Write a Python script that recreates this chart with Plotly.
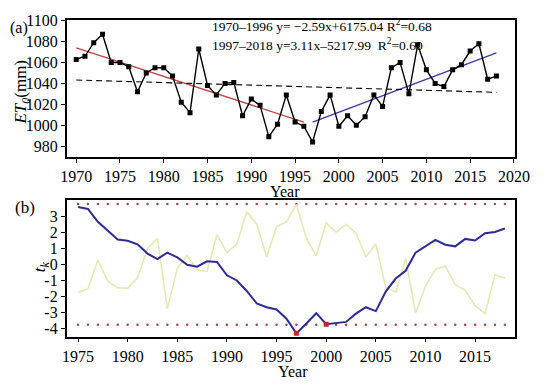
import numpy as np
import plotly.graph_objects as go

# ---------------- data ----------------
years_a = list(range(1970, 2019))
et0 = [1063, 1066, 1079, 1087, 1060, 1060, 1056, 1032, 1050, 1055,
       1055, 1047, 1022, 1012, 1073, 1038, 1029, 1040, 1041, 1009,
       1025, 1019, 989, 1001, 1029, 1003, 999, 984, 1013, 1029,
       999, 1009, 1000, 1008, 1029, 1018, 1055, 1060, 1030, 1077,
       1053, 1040, 1037, 1053, 1058, 1071, 1078, 1044, 1047]

years_b = list(range(1975, 2019))
uf = [3.56, 3.44, 2.64, 2.09, 1.54, 1.46, 1.24, 0.67, 0.33, 0.73,
      0.43, -0.03, -0.14, 0.19, 0.15, -0.68, -1.0, -1.65, -2.42, -2.66,
      -2.80, -3.37, -4.28, -3.67, -3.03, -3.71, -3.63, -3.57, -3.06, -2.66,
      -2.90, -1.69, -0.88, -0.40, 0.73, 1.14, 1.52, 1.22, 1.12, 1.58,
      1.48, 1.93, 2.01, 2.23]
ub = [-1.75, -1.51, 0.27, -1.04, -1.45, -1.49, -0.84, 0.97, 1.62, -2.76,
      -0.24, 0.57, -0.34, -0.44, 1.85, 0.73, 1.28, 3.26, 2.49, 0.47,
      2.33, 2.64, 3.71, 1.62, 0.53, 2.59, 1.99, 2.49, 1.94, 0.47,
      1.28, -1.45, -1.71, 0.37, -3.03, -1.35, -0.30, -0.12, -1.25, -1.61,
      -2.56, -3.06, -0.64, -0.84]
crit = 3.74
change_years = [1997, 2000]

xticks_a = [1970, 1975, 1980, 1985, 1990, 1995, 2000, 2005, 2010, 2015, 2020]
yticks_a = [980, 1000, 1020, 1040, 1060, 1080, 1100]
xticks_b = [1975, 1980, 1985, 1990, 1995, 2000, 2005, 2010, 2015]
yticks_b = [-4, -3, -2, -1, 0, 1, 2, 3]
yticktext_b = ["-4", "-3", "-2", "-1", "0", "1", "2", "3"]

eq1 = "1970\u20131996 y= \u22122.59x+6175.04 R<sup>2</sup>=0.68"
eq2 = "1997\u20132018 y=3.11x\u20135217.99  R<sup>2</sup>=0.60"

# ---------------- derived trends ----------------
ya = np.array(years_a, dtype=float)
va = np.array(et0, dtype=float)
m1 = (ya >= 1970) & (ya <= 1996)
m2 = (ya >= 1997) & (ya <= 2018)
p1 = np.polyfit(ya[m1], va[m1], 1)
p2 = np.polyfit(ya[m2], va[m2], 1)
p0 = np.polyfit(ya, va, 1)

FONT = "Liberation Serif"

fig = go.Figure()

# top panel
fig.add_trace(go.Scatter(x=ya[m1], y=np.polyval(p1, ya[m1]), mode="lines",
                         line=dict(color="#c84040", width=1.3),
                         xaxis="x", yaxis="y", showlegend=False))
fig.add_trace(go.Scatter(x=ya[m2], y=np.polyval(p2, ya[m2]), mode="lines",
                         line=dict(color="#3a3aa8", width=1.3),
                         xaxis="x", yaxis="y", showlegend=False))
fig.add_trace(go.Scatter(x=ya, y=np.polyval(p0, ya), mode="lines",
                         line=dict(color="black", width=1.1, dash="6px,4px"),
                         xaxis="x", yaxis="y", showlegend=False))
fig.add_trace(go.Scatter(x=years_a, y=et0, mode="lines+markers",
                         line=dict(color="black", width=1.4),
                         marker=dict(symbol="square", size=5, color="black"),
                         xaxis="x", yaxis="y", showlegend=False))

# bottom panel
fig.add_trace(go.Scatter(x=years_b, y=[crit] * len(years_b), mode="markers",
                         marker=dict(size=2.5, color="#a84848"),
                         xaxis="x2", yaxis="y2", showlegend=False))
fig.add_trace(go.Scatter(x=years_b, y=[-crit] * len(years_b), mode="markers",
                         marker=dict(size=2.5, color="#a84848"),
                         xaxis="x2", yaxis="y2", showlegend=False))
fig.add_trace(go.Scatter(x=years_b, y=ub, mode="lines",
                         line=dict(color="#e8e8b4", width=1.6),
                         xaxis="x2", yaxis="y2", showlegend=False))
fig.add_trace(go.Scatter(x=years_b, y=uf, mode="lines",
                         line=dict(color="#2c2c9c", width=2),
                         xaxis="x2", yaxis="y2", showlegend=False))
cy = [uf[years_b.index(y)] for y in change_years]
fig.add_trace(go.Scatter(x=change_years, y=cy, mode="markers",
                         marker=dict(symbol="square", size=5, color="#cc2222"),
                         xaxis="x2", yaxis="y2", showlegend=False))

W, H = 550, 386
def px(x):
    return x / W
def py(y):
    return 1 - y / H

axis_common = dict(showline=True, linecolor="black", linewidth=1.5, mirror=True,
                   ticks="outside", ticklen=4, tickwidth=1, tickcolor="black",
                   showgrid=False, zeroline=False,
                   tickfont=dict(family=FONT, size=16, color="black"))

fig.update_layout(
    width=W, height=H,
    margin=dict(l=0, r=0, t=0, b=0),
    paper_bgcolor="white", plot_bgcolor="white",
    xaxis=dict(domain=[px(63), px(529)], range=[1968.9, 2020.1],
               tickvals=xticks_a, anchor="y", **axis_common),
    yaxis=dict(domain=[py(153), py(13)], range=[969.7, 1101],
               tickvals=yticks_a, anchor="x", **axis_common),
    xaxis2=dict(domain=[px(63), px(529)], range=[1973.85, 2019.0],
                tickvals=xticks_b, anchor="y2", **axis_common),
    yaxis2=dict(domain=[py(336.7), py(197)], range=[-4.49, 4.0],
                tickvals=yticks_b, ticktext=yticktext_b, anchor="x2", **axis_common),
)

ann_font = dict(family=FONT, size=16, color="black")
anns = [
    dict(text="(a)", x=px(13), y=py(21), xanchor="center", yanchor="middle",
         font=dict(family=FONT, size=16, color="black")),
    dict(text="(b)", x=px(20), y=py(205), xanchor="center", yanchor="middle",
         font=dict(family=FONT, size=17, color="black")),
    dict(text="Year", x=px(290), y=py(188), xanchor="center", yanchor="middle", font=ann_font),
    dict(text="Year", x=px(298), y=py(372), xanchor="center", yanchor="middle", font=ann_font),
    dict(text="<i>ET</i><sub><i>0</i></sub>(mm)", x=px(17), y=py(87), xanchor="center",
         yanchor="middle", textangle=-90, font=dict(family=FONT, size=17, color="black")),
    dict(text="<i>t</i><sub><i>k</i></sub>", x=px(36), y=py(265), xanchor="center",
         yanchor="middle", textangle=-90, font=dict(family=FONT, size=17, color="black")),
    dict(text=eq1, x=px(212), y=py(19), xanchor="left", yanchor="middle",
         font=dict(family=FONT, size=13.5, color="black")),
    dict(text=eq2, x=px(212), y=py(38.5), xanchor="left", yanchor="middle",
         font=dict(family=FONT, size=13.5, color="black")),
]
for a in anns:
    a.update(xref="paper", yref="paper", showarrow=False)
fig.update_layout(annotations=anns)

fig.write_html("out.html", config={"displayModeBar": False},
               post_script="document.body.style.margin='0px';")
